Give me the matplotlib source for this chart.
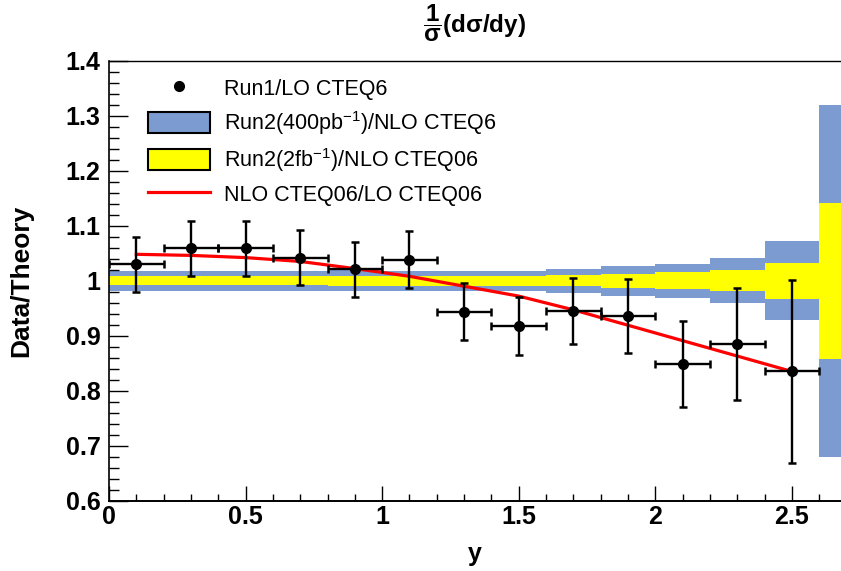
import numpy as np
import matplotlib
matplotlib.use("Agg")
import matplotlib.pyplot as plt
from matplotlib.lines import Line2D
from matplotlib.patches import Patch
from matplotlib.ticker import MultipleLocator

plt.rcParams["font.family"] = ["Liberation Sans", "DejaVu Sans"]
plt.rcParams["mathtext.fontset"] = "custom"
plt.rcParams["mathtext.rm"] = "Liberation Sans"
plt.rcParams["mathtext.it"] = "Liberation Sans"
plt.rcParams["mathtext.bf"] = "Liberation Sans:bold"

# Run1 data / LO CTEQ6, one point per rapidity bin
y_centers = [0.1, 0.3, 0.5, 0.7, 0.9, 1.1, 1.3, 1.5, 1.7, 1.9, 2.1, 2.3, 2.5]
ratio_run1 = [1.030, 1.059, 1.059, 1.042, 1.021, 1.038, 0.944, 0.918,
              0.945, 0.936, 0.849, 0.885, 0.835]
ratio_err = [0.050, 0.050, 0.050, 0.050, 0.050, 0.052, 0.052, 0.053,
             0.060, 0.068, 0.078, 0.101, 0.166]
bin_halfwidth = 0.1

# NLO/LO curve
nlo_lo = [1.048, 1.046, 1.042, 1.035, 1.022, 1.008, 0.990, 0.972,
          0.947, 0.919, 0.891, 0.863, 0.835]

# expected Run2 uncertainty bands (half widths around 1)
band_left = [0.0, 0.2, 0.4, 0.6, 0.8, 1.0, 1.2, 1.4, 1.6, 1.8, 2.0, 2.2, 2.4, 2.6]
band_width = 0.2
run2_400pb = [0.018, 0.018, 0.018, 0.018, 0.019, 0.018, 0.018, 0.018,
              0.022, 0.027, 0.031, 0.041, 0.072, 0.320]
run2_2fb = [0.008, 0.008, 0.008, 0.008, 0.009, 0.009, 0.009, 0.009,
            0.010, 0.0125, 0.015, 0.019, 0.033, 0.142]

blue = "#7b9bd1"
yellow = "#ffff00"

fig = plt.figure(figsize=(8.41, 5.71), dpi=100)
ax = fig.add_axes([109 / 841, 1 - 500.7 / 571, 1 - 109 / 841, 440 / 571])

# bands
b400 = np.array(run2_400pb)
b2 = np.array(run2_2fb)
ax.bar(band_left, 2 * b400, bottom=1 - b400, width=band_width, align="edge",
       color=blue, linewidth=0, zorder=1)
ax.bar(band_left, 2 * b2, bottom=1 - b2, width=band_width, align="edge",
       color=yellow, linewidth=0, zorder=2)

# NLO/LO curve
ax.plot(y_centers, nlo_lo, color="red", linewidth=2.3, zorder=3)

# data
ax.errorbar(y_centers, ratio_run1, xerr=bin_halfwidth, yerr=ratio_err,
            fmt="o", color="black", ms=7, elinewidth=1.7, capsize=3,
            capthick=1.8, zorder=4)

ax.set_xlim(0, 2.68)
ax.set_ylim(0.6, 1.4)

# ROOT-like axes
ax.spines["right"].set_visible(False)
ax.spines["left"].set_linewidth(1.2)
ax.spines["bottom"].set_linewidth(1.4)
ax.spines["top"].set_linewidth(1.0)
ax.xaxis.set_major_locator(MultipleLocator(0.5))
ax.xaxis.set_minor_locator(MultipleLocator(0.1))
ax.yaxis.set_major_locator(MultipleLocator(0.1))
ax.yaxis.set_minor_locator(MultipleLocator(0.02))
ax.tick_params(axis="both", which="both", direction="in", top=False, right=False)
ax.tick_params(axis="x", which="major", length=11, width=1.0, pad=3)
ax.tick_params(axis="x", which="minor", length=5, width=1.0)
ax.tick_params(axis="y", which="major", length=14, width=1.0, pad=6)
ax.tick_params(axis="y", which="minor", length=7, width=1.0)

ax.set_xticks([0, 0.5, 1, 1.5, 2, 2.5])
ax.set_xticklabels(["0", "0.5", "1", "1.5", "2", "2.5"])
ax.set_yticks([0.6, 0.7, 0.8, 0.9, 1.0, 1.1, 1.2, 1.3, 1.4])
ax.set_yticklabels(["0.6", "0.7", "0.8", "0.9", "1", "1.1", "1.2", "1.3", "1.4"])
for lab in ax.get_xticklabels() + ax.get_yticklabels():
    lab.set_fontsize(18)
    lab.set_fontweight("bold")

ax.set_xlabel("y", fontsize=18, fontweight="bold")
ax.xaxis.set_label_coords(0.5, -0.095)
ax.set_ylabel("Data/Theory", fontsize=19, fontweight="bold")
ax.yaxis.set_label_coords(-0.103, 0.5)

ax.text(0.5, 1.063, r"$\mathbf{\dfrac{1}{σ}}$" + "(dσ/dy)", transform=ax.transAxes,
        ha="center", va="baseline", fontsize=17.5, fontweight="bold")

handles = [
    Line2D([], [], marker="o", color="black", linestyle="none", ms=7),
    Patch(facecolor=blue, edgecolor="black", linewidth=1.5),
    Patch(facecolor=yellow, edgecolor="black", linewidth=1.5),
    Line2D([], [], color="red", linewidth=2.3),
]
labels = [
    "Run1/LO CTEQ6",
    r"Run2(400pb$^{-1}$)/NLO CTEQ6",
    r"Run2(2fb$^{-1}$)/NLO CTEQ06",
    "NLO CTEQ06/LO CTEQ06",
]
ax.legend(handles, labels, loc="upper left", bbox_to_anchor=(0.053, 0.962),
          frameon=False, fontsize=15.5, handlelength=2.9, handleheight=1.1,
          labelspacing=0.42, handletextpad=0.65, borderpad=0, borderaxespad=0)

fig.savefig("out.png", dpi=100)
